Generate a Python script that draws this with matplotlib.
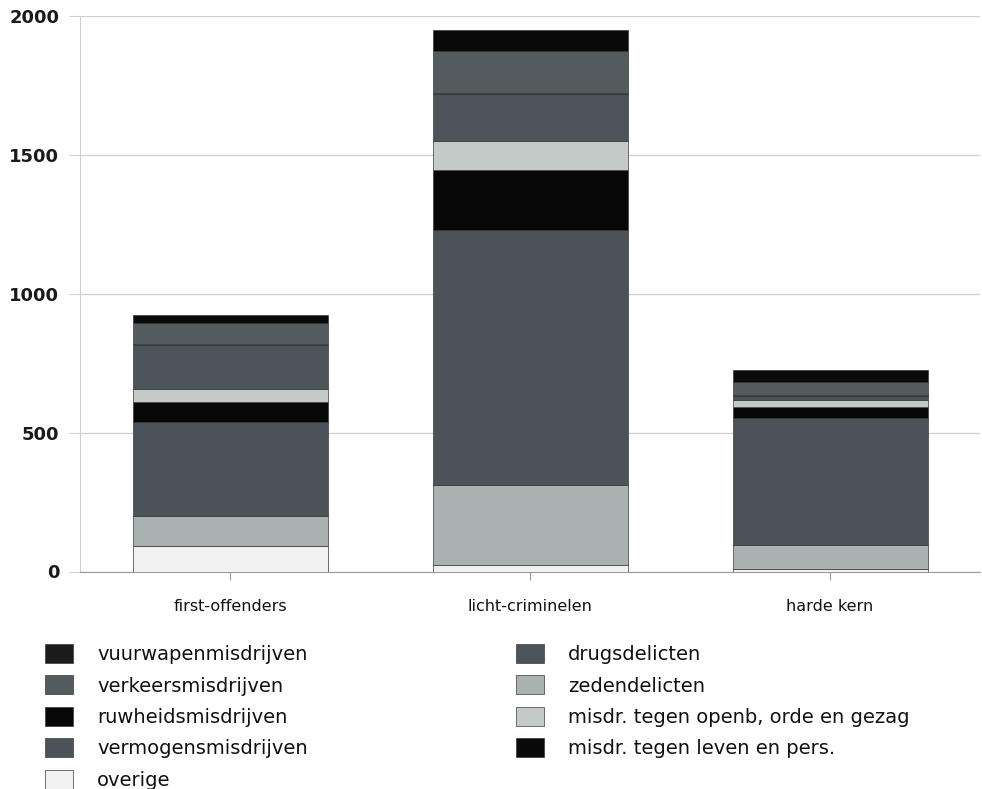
import matplotlib
matplotlib.use("Agg")
import matplotlib.pyplot as plt
import numpy as np

categories = ['first-offenders', 'licht-criminelen', 'harde kern']

# stacked bottom -> top
overige = [92, 22, 10]
zedendelicten = [108, 288, 84]
vermogensmisdrijven = [340, 921, 460]
ruwheidsmisdrijven = [72, 214, 38]
openb_orde = [45, 105, 24]
drugsdelicten = [158, 168, 16]
vuurwapenmisdrijven = [5, 5, 4]
verkeersmisdrijven = [74, 152, 46]
leven_pers = [28, 75, 42]

series = [
    ('overige', overige, '#f1f1f1'),
    ('zedendelicten', zedendelicten, '#a9b2b0'),
    ('vermogensmisdrijven', vermogensmisdrijven, '#4a5357'),
    ('ruwheidsmisdrijven', ruwheidsmisdrijven, '#070707'),
    ('misdr. tegen openb, orde en gezag', openb_orde, '#c3cac8'),
    ('drugsdelicten', drugsdelicten, '#4b5458'),
    ('vuurwapenmisdrijven', vuurwapenmisdrijven, '#1a1c1d'),
    ('verkeersmisdrijven', verkeersmisdrijven, '#535b5f'),
    ('misdr. tegen leven en pers.', leven_pers, '#0a0a0a'),
]

yticks = [0, 500, 1000, 1500, 2000]

fig = plt.figure(figsize=(9.82, 7.89), dpi=100)
ax = fig.add_axes([80/982, 1-571.5/789, 900/982, (571.5-16)/789])

x = np.arange(len(categories))
bottom = np.zeros(len(categories))
handles = {}
for name, vals, col in series:
    b = ax.bar(x, vals, width=0.65, bottom=bottom, color=col,
               edgecolor='#3a3a3a', linewidth=0.5, zorder=3, label=name)
    handles[name] = b
    bottom += np.array(vals)

ax.set_xlim(-0.5, 2.5)
ax.set_ylim(0, 2000)
ax.set_yticks(yticks)
ax.set_yticklabels([str(t) for t in yticks])
ax.set_xticks(x)
ax.set_xticklabels(categories)
ax.grid(axis='y', color='#cfcfcf', linewidth=0.9, zorder=0)
for s in ['top', 'right']:
    ax.spines[s].set_visible(False)
ax.spines['left'].set_color('#cfcfcf')
ax.spines['bottom'].set_color('#9a9a9a')
ax.tick_params(axis='y', length=8, color='#cfcfcf', pad=7, labelsize=13)
ax.tick_params(axis='x', length=6, color='#9a9a9a', pad=14, labelsize=11.5)
for lab in ax.get_yticklabels():
    lab.set_fontweight('bold')
    lab.set_color('#1a1a1a')
for lab in ax.get_xticklabels():
    lab.set_color('#111111')

order = ['vuurwapenmisdrijven', 'verkeersmisdrijven', 'ruwheidsmisdrijven',
         'vermogensmisdrijven', 'overige', 'drugsdelicten', 'zedendelicten',
         'misdr. tegen openb, orde en gezag', 'misdr. tegen leven en pers.']
leg = fig.legend([handles[n] for n in order], order, ncol=2,
                 loc='upper left', bbox_to_anchor=(45/982, 1-644/789),
                 frameon=False, fontsize=14, handlelength=1.45,
                 handleheight=1.13, handletextpad=1.24, labelspacing=0.58,
                 columnspacing=10.7, borderpad=0, borderaxespad=0)
for t in leg.get_texts():
    t.set_color('#111111')

fig.savefig('out.png', dpi=100)
